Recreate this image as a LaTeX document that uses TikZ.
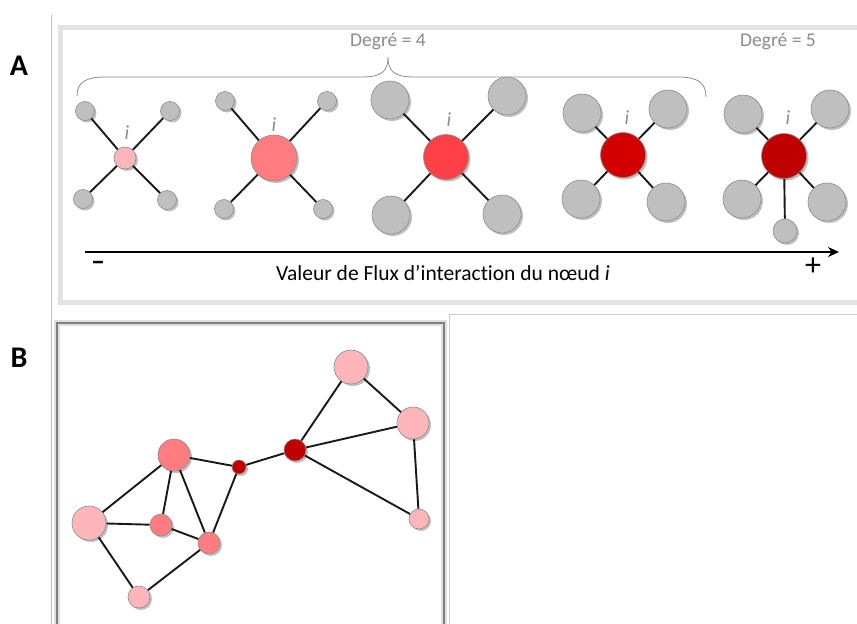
\documentclass[tikz,border=0pt]{standalone}
\usepackage{fontspec}
\setmainfont{Carlito}[Ligatures=NoCommon]
\usetikzlibrary{shadows,arrows.meta}
\definecolor{lpink}{RGB}{255,182,187}
\definecolor{mpink}{RGB}{255,124,128}
\definecolor{redA}{RGB}{255,64,70}
\definecolor{redB}{RGB}{212,0,0}
\definecolor{redC}{RGB}{192,0,0}
\definecolor{satgray}{RGB}{191,191,191}
\definecolor{txtgray}{RGB}{140,140,140}
\tikzset{
  dot/.style={circle, inner sep=0pt, draw=black!45, line width=0.6pt,
    drop shadow={shadow xshift=2pt, shadow yshift=-2pt, opacity=0.25, fill=black}},
  sat/.style={dot, fill=satgray, minimum size=#1},
  hub/.style={dot, minimum size=#1},
  link/.style={draw=black!90, line width=1.9pt},
  ilabel/.style={font=\fontsize{20}{20}\selectfont\itshape, text=txtgray},
  deg/.style={font=\fontsize{19.5}{19.5}\selectfont, text=txtgray},
  panel/.style={font=\fontsize{30}{30}\selectfont\bfseries}
}
\begin{document}
\begin{tikzpicture}[x=1pt,y=-1pt]
\useasboundingbox (0,0) rectangle (857,624);
\fill[white] (0,0) rectangle (857,624);

% separators and frames
\draw[black!25, line width=1pt] (51,15) -- (51,624);
\draw[black!11, line width=5pt] (60,27.5) rectangle (870,302.5);
\draw[black!20, line width=1pt] (449,624) -- (449,314.5) -- (857,314.5);
\draw[black!12, line width=6pt] (57,323) rectangle (444,640);
\draw[black!50, line width=2pt] (57,323) rectangle (444,640);

% panel letters
\node[panel] (labA) at (19,66) {A};
\node[panel] (labB) at (19,358) {B};

% brace and degree labels
\node[deg] (d4) at (388,42) {Degré = 4};
\node[deg] (d5) at (778,42) {Degré = 5};
\draw[black!45, line width=0.8pt] (77,96) .. controls (77,82) and (86,77) .. (105,77)
  -- (362,77) .. controls (382,77) and (388,71) .. (388,57)
  .. controls (388,71) and (394,77) .. (414,77) -- (678,77)
  .. controls (698,77) and (706,83) .. (706,97);

% star 1
\node[hub=22pt, fill=lpink] (c1) at (125,158) {};
\node[sat=19pt] (s1a) at (85,111) {};
\node[sat=19pt] (s1b) at (170,111) {};
\node[sat=19pt] (s1c) at (83,199) {};
\node[sat=19pt] (s1d) at (167,200) {};
\node[ilabel] (i1) at (127,133) {i};

% star 2
\node[hub=46pt, fill=mpink] (c2) at (274,158) {};
\node[sat=19pt] (s2a) at (225,101) {};
\node[sat=19pt] (s2b) at (327,101) {};
\node[sat=19pt] (s2c) at (224,209) {};
\node[sat=19pt] (s2d) at (323,209) {};
\node[ilabel] (i2) at (274,125) {i};

% star 3
\node[hub=45pt, fill=redA] (c3) at (446,157) {};
\node[sat=38pt] (s3a) at (390,100) {};
\node[sat=38pt] (s3b) at (507,96) {};
\node[sat=38pt] (s3c) at (391,215) {};
\node[sat=38pt] (s3d) at (502,214) {};
\node[ilabel] (i3) at (449,120) {i};

% star 4
\node[hub=45pt, fill=redB] (c4) at (623,155) {};
\node[sat=38pt] (s4a) at (582,113) {};
\node[sat=38pt] (s4b) at (668,109) {};
\node[sat=38pt] (s4c) at (581,199) {};
\node[sat=38pt] (s4d) at (666,202) {};
\node[ilabel] (i4) at (627,118) {i};

% star 5
\node[hub=45pt, fill=redC] (c5) at (784,156) {};
\node[sat=38pt] (s5a) at (743,114) {};
\node[sat=38pt] (s5b) at (830,109) {};
\node[sat=38pt] (s5c) at (742,199) {};
\node[sat=38pt] (s5d) at (827,202) {};
\node[sat=24pt] (s5e) at (785,231) {};
\node[ilabel] (i5) at (788,118) {i};

\foreach \c/\s in {c1/s1a,c1/s1b,c1/s1c,c1/s1d,c2/s2a,c2/s2b,c2/s2c,c2/s2d,
  c3/s3a,c3/s3b,c3/s3c,c3/s3d,c4/s4a,c4/s4b,c4/s4c,c4/s4d,
  c5/s5a,c5/s5b,c5/s5c,c5/s5d,c5/s5e}
  \draw[link] (\c) -- (\s);

% axis
\coordinate (ax0) at (85,252);
\coordinate (ax1) at (839,252);
\draw[line width=2.2pt, -{Stealth[length=11pt,width=10pt]}] (ax0) -- (ax1);
\node[font=\fontsize{28}{28}\selectfont\bfseries] (minus) at (98,266) {–};
\node[font=\fontsize{32}{32}\selectfont] (plus) at (813,267) {+};
\node[font=\fontsize{21.5}{21.5}\selectfont] (axlab) at (443,273) {Valeur de Flux d’interaction du nœud \textit{i}};

% panel B network
\node[hub=34pt, fill=lpink] (n1) at (351,367) {};
\node[hub=32pt, fill=lpink] (n2) at (413,423) {};
\node[hub=20pt, fill=lpink] (n3) at (419,519) {};
\node[hub=22pt, fill=redC] (n4) at (295,450) {};
\node[hub=14pt, fill=redC] (n5) at (239,467) {};
\node[hub=32pt, fill=mpink] (n6) at (174,455) {};
\node[hub=34pt, fill=lpink] (n7) at (89,523) {};
\node[hub=22pt, fill=mpink] (n8) at (161,525) {};
\node[hub=22pt, fill=mpink] (n9) at (209,543) {};
\node[hub=22pt, fill=lpink] (n10) at (139,597) {};
\foreach \a/\b in {n1/n2,n1/n4,n2/n4,n2/n3,n4/n3,n4/n5,n5/n6,n5/n9,
  n6/n7,n6/n8,n6/n9,n7/n8,n8/n9,n7/n10,n10/n9}
  \draw[link] (\a) -- (\b);
\end{tikzpicture}
\end{document}
